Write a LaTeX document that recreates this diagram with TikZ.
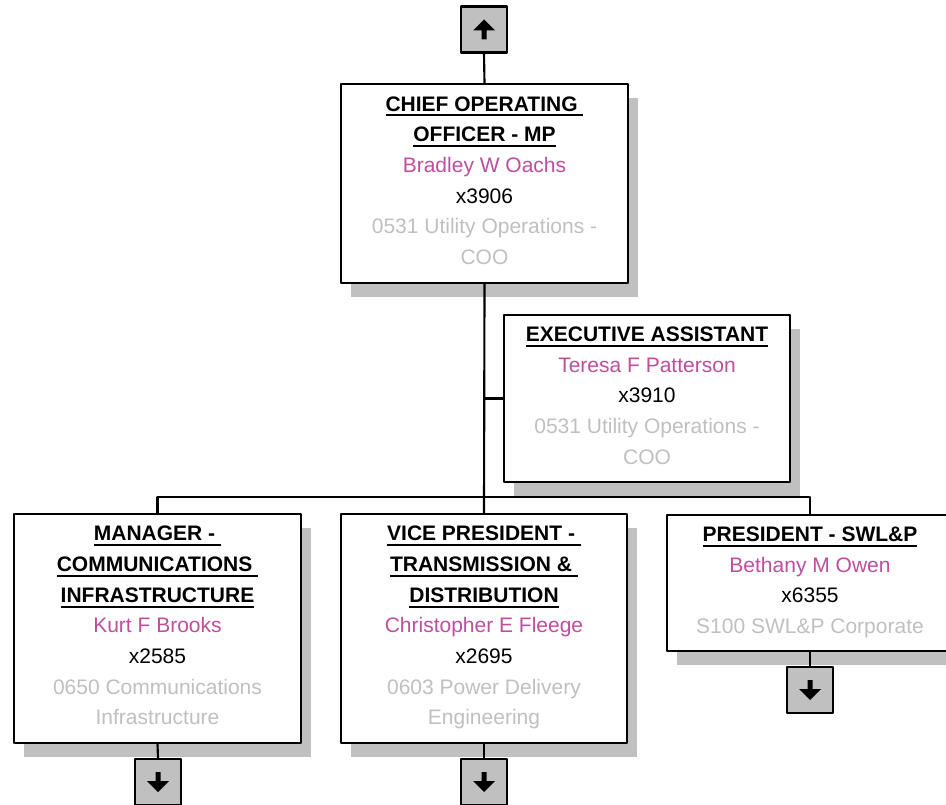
\documentclass[tikz,border=0pt]{standalone}
\usepackage{fontspec}
\setmainfont{Liberation Sans}
\usetikzlibrary{shadows}
\definecolor{namecol}{RGB}{190,78,158}
\definecolor{deptcol}{RGB}{192,192,192}
\definecolor{boxgray}{RGB}{192,192,192}
% underlined bold title line
\newcommand\tul[1]{\setbox0\hbox{\bfseries #1}\rlap{\rule[-4pt]{\wd0}{1.5pt}}\box0}
\newcommand\who[1]{\textcolor{namecol}{#1}}
\newcommand\dept[1]{\textcolor{deptcol}{#1}}
\begin{document}
\begin{tikzpicture}[x=0.75pt, y=-0.75pt, line join=round]
\tikzset{
  card/.style={draw, line width=1.6pt, fill=white, align=center, minimum width=215pt, inner sep=2pt,
    font=\fontsize{15.75pt}{23pt}\selectfont,
    execute at end node={\rule[-4.5pt]{0pt}{4.5pt}},
    drop shadow={shadow xshift=7.5pt, shadow yshift=-10.5pt, fill=boxgray, opacity=1}},
  navbox/.style={draw, line width=1.6pt, fill=boxgray, minimum size=34.5pt, inner sep=0pt},
  link/.style={line width=1.6pt},
  up tip/.pic={\fill (0,-10) -- (11,1) -- (2.5,1) -- (2.5,10) -- (-2.5,10) -- (-2.5,1) -- (-11,1) -- cycle;}
}
\clip (0,0) rectangle (946,805);
% boxes
\node[card, minimum height=149pt] (coo) at (484.5,183.5)
  {\tul{CHIEF OPERATING\ }\\ \tul{OFFICER - MP}\\ \who{Bradley W Oachs}\\ x3906\\ \dept{0531 Utility Operations -}\\ \dept{COO}};
\node[card, minimum height=125pt] (ea) at (647,398.5)
  {\tul{EXECUTIVE ASSISTANT}\\ \who{Teresa F Patterson}\\ x3910\\ \dept{0531 Utility Operations -}\\ \dept{COO}};
\node[card, minimum height=172pt] (mgr) at (157.5,628.5)
  {\tul{MANAGER -\ }\\ \tul{COMMUNICATIONS\ }\\ \tul{INFRASTRUCTURE}\\ \who{Kurt F Brooks}\\ x2585\\ \dept{0650 Communications}\\ \dept{Infrastructure}};
\node[card, minimum height=172pt] (vp) at (484,628.5)
  {\tul{VICE PRESIDENT -\ }\\ \tul{TRANSMISSION \&\ }\\ \tul{DISTRIBUTION}\\ \who{Christopher E Fleege}\\ x2695\\ \dept{0603 Power Delivery}\\ \dept{Engineering}};
\node[card, minimum height=102pt] (pres) at (810,583)
  {\tul{PRESIDENT - SWL\&P}\\ \who{Bethany M Owen}\\ x6355\\ \dept{S100 SWL\&P Corporate}};
% navigation buttons
\node[navbox] (up) at (484,29.5) {};
\node[navbox] (mgrdn) at (158,782) {};
\node[navbox] (vpdn) at (484,782) {};
\node[navbox] (presdn) at (810,690) {};
\pic at (up) {up tip};
\pic[yscale=-1] at (mgrdn) {up tip};
\pic[yscale=-1] at (vpdn) {up tip};
\pic[yscale=-1] at (presdn) {up tip};
% connectors
\coordinate (bus) at (484,497);
\draw[link] (up.south) -- (coo.north);
\draw[link] (coo.south) -- (vp.north);
\draw[link] (coo.south |- ea.west) -- (ea.west);
\draw[link] (mgr.north) |- (bus) -| (pres.north);
\draw[link] (mgr.south) -- (mgrdn.north);
\draw[link] (vp.south) -- (vpdn.north);
\draw[link] (pres.south) -- (presdn.north);
\end{tikzpicture}
\end{document}
